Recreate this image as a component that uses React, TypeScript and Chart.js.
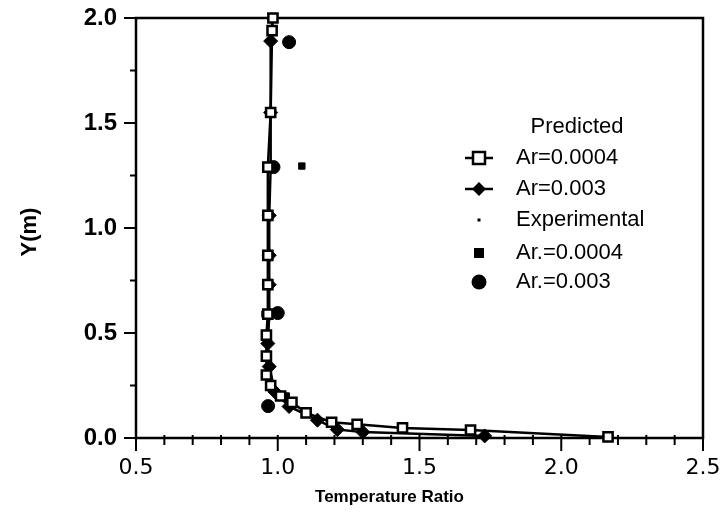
import React, { useEffect, useRef } from "react";
import { Chart, registerables } from "chart.js";

Chart.register(...registerables);

// Predicted, Ar = 0.0004 (open squares)
const predSquareX = [0.983, 0.98, 0.975, 0.965, 0.965, 0.965, 0.965, 0.965, 0.96, 0.96, 0.96, 0.975, 1.01, 1.05, 1.10, 1.19, 1.28, 1.44, 1.68, 2.165];
const predSquareY = [2.0, 1.94, 1.55, 1.29, 1.06, 0.87, 0.73, 0.59, 0.49, 0.39, 0.30, 0.25, 0.20, 0.17, 0.12, 0.075, 0.065, 0.048, 0.038, 0.005];

// Predicted, Ar = 0.003 (filled diamonds)
const predDiamondX = [0.975, 0.975, 0.975, 0.97, 0.97, 0.97, 0.97, 0.965, 0.97, 0.99, 1.04, 1.14, 1.21, 1.30, 1.73];
const predDiamondY = [1.89, 1.55, 1.29, 1.06, 0.87, 0.73, 0.59, 0.45, 0.34, 0.22, 0.15, 0.085, 0.04, 0.028, 0.01];

// Experimental, Ar. = 0.0004 (small filled squares)
const expSquareX = [1.085, 0.955, 1.03];
const expSquareY = [1.295, 0.59, 0.2];

// Experimental, Ar. = 0.003 (filled circles)
const expCircleX = [1.04, 0.985, 1.0, 0.966];
const expCircleY = [1.885, 1.29, 0.595, 0.152];

const xMin = 0.5;
const xMax = 2.5;
const yMin = 0;
const yMax = 2;
const xMajorStep = 0.5;
const yMajorStep = 0.5;
const xMinorStep = 0.1;
const yMinorStep = 0.25;

const legendTitle = "Predicted";
const legendLabels = ["Ar=0.0004", "Ar=0.003", "Experimental", "Ar.=0.0004", "Ar.=0.003"];
const xTitle = "Temperature Ratio";
const yTitle = "Y(m)";

const FONT = "'Liberation Sans', Arial, Helvetica, sans-serif";

function pts(xs: number[], ys: number[]) {
  return xs.map((x, i) => ({ x, y: ys[i] }));
}

const decorPlugin = {
  id: "decor",
  beforeDatasetsDraw(chart: any) {
    const { ctx, chartArea: a, scales } = chart;
    const xs = scales.x;
    const ys = scales.y;
    ctx.save();
    ctx.strokeStyle = "#000";
    ctx.lineWidth = 2.5;
    ctx.strokeRect(a.left, a.top, a.right - a.left, a.bottom - a.top);
    ctx.lineWidth = 2;
    const nx = Math.round((xMax - xMin) / xMinorStep);
    for (let i = 0; i <= nx; i++) {
      const v = xMin + i * xMinorStep;
      const px = xs.getPixelForValue(v);
      const major = Math.abs(v / xMajorStep - Math.round(v / xMajorStep)) < 1e-6;
      ctx.beginPath();
      ctx.moveTo(px, a.bottom - 3);
      ctx.lineTo(px, a.bottom + (major ? 13 : 7));
      ctx.stroke();
    }
    const ny = Math.round((yMax - yMin) / yMinorStep);
    for (let i = 0; i <= ny; i++) {
      const v = yMin + i * yMinorStep;
      const py = ys.getPixelForValue(v);
      const major = Math.abs(v / yMajorStep - Math.round(v / yMajorStep)) < 1e-6;
      ctx.beginPath();
      ctx.moveTo(a.left - (major ? 12 : 6), py);
      ctx.lineTo(a.left, py);
      ctx.stroke();
    }
    // axis titles
    ctx.fillStyle = "#000";
    ctx.font = `bold 17px ${FONT}`;
    ctx.textAlign = "center";
    ctx.textBaseline = "middle";
    ctx.fillText(xTitle, (a.left + a.right) / 2 - 30, a.bottom + 59);
    ctx.save();
    ctx.translate(30, (a.top + a.bottom) / 2 + 4);
    ctx.rotate(-Math.PI / 2);
    ctx.font = `bold 22px ${FONT}`;
    ctx.fillText(yTitle, 0, 0);
    ctx.restore();
    ctx.restore();
  },
  afterDraw(chart: any) {
    const { ctx, chartArea: a } = chart;
    const sx = a.left + 343;
    const tx = a.left + 380;
    const y0 = a.top + 109;
    const step = 31;
    ctx.save();
    ctx.fillStyle = "#000";
    ctx.strokeStyle = "#000";
    ctx.font = `22px ${FONT}`;
    ctx.textBaseline = "middle";
    ctx.textAlign = "center";
    ctx.fillText(legendTitle, a.left + 441, y0);
    ctx.textAlign = "left";
    legendLabels.forEach((lab, i) => {
      const yy = y0 + (i + 1) * step - (i === 3 ? -2 : 0);
      ctx.fillText(lab, tx, yy);
      ctx.lineWidth = 2.5;
      if (i === 0) {
        ctx.beginPath();
        ctx.moveTo(sx - 14, yy);
        ctx.lineTo(sx + 14, yy);
        ctx.stroke();
        ctx.fillStyle = "#fff";
        ctx.fillRect(sx - 6, yy - 6, 12, 12);
        ctx.strokeRect(sx - 6, yy - 6, 12, 12);
        ctx.fillStyle = "#000";
      } else if (i === 1) {
        ctx.beginPath();
        ctx.moveTo(sx - 14, yy);
        ctx.lineTo(sx + 14, yy);
        ctx.stroke();
        ctx.beginPath();
        ctx.moveTo(sx, yy - 7);
        ctx.lineTo(sx + 7, yy);
        ctx.lineTo(sx, yy + 7);
        ctx.lineTo(sx - 7, yy);
        ctx.closePath();
        ctx.fill();
      } else if (i === 2) {
        ctx.fillRect(sx - 1.5, yy - 1.5, 3, 3);
      } else if (i === 3) {
        ctx.fillRect(sx - 5, yy - 5, 10, 10);
      } else {
        ctx.beginPath();
        ctx.arc(sx, yy, 7.5, 0, Math.PI * 2);
        ctx.fill();
      }
    });
    ctx.restore();
  },
};

export default function App() {
  const ref = useRef<HTMLCanvasElement | null>(null);

  useEffect(() => {
    if (!ref.current) return;
    const chart = new Chart(ref.current, {
      type: "scatter",
      data: {
        datasets: [
          {
            label: legendLabels[0],
            data: pts(predSquareX, predSquareY),
            showLine: true,
            borderColor: "#000",
            borderWidth: 2.5,
            pointStyle: "rect",
            pointRadius: 6.5,
            pointBorderWidth: 2.5,
            pointBackgroundColor: "#fff",
            pointBorderColor: "#000",
            tension: 0,
            clip: false,
          },
          {
            label: legendLabels[1],
            data: pts(predDiamondX, predDiamondY),
            showLine: true,
            borderColor: "#000",
            borderWidth: 2.5,
            pointStyle: "rectRot",
            pointRadius: 7,
            pointBorderWidth: 1,
            pointBackgroundColor: "#000",
            pointBorderColor: "#000",
            tension: 0,
            clip: false,
          },
          {
            label: legendLabels[3],
            data: pts(expSquareX, expSquareY),
            showLine: false,
            pointStyle: "rect",
            pointRadius: 4.5,
            pointBorderWidth: 1,
            pointBackgroundColor: "#000",
            pointBorderColor: "#000",
            clip: false,
          },
          {
            label: legendLabels[4],
            data: pts(expCircleX, expCircleY),
            showLine: false,
            pointStyle: "circle",
            pointRadius: 6.5,
            pointBorderWidth: 1,
            pointBackgroundColor: "#000",
            pointBorderColor: "#000",
            clip: false,
          },
        ],
      },
      options: {
        responsive: false,
        animation: false,
        events: [],
        layout: { padding: { top: 18, right: 24, left: 0, bottom: 0 } },
        plugins: { legend: { display: false }, tooltip: { enabled: false } },
        scales: {
          x: {
            type: "linear",
            min: xMin,
            max: xMax,
            grid: { display: false, drawTicks: false },
            border: { display: false },
            ticks: {
              stepSize: xMajorStep,
              padding: 17,
              color: "#000",
              font: { family: "'DejaVu Sans', sans-serif", size: 22 },
              callback: (v: any) => Number(v).toFixed(1),
            },
            afterFit: (s: any) => {
              s.height = 81;
              s.paddingLeft = 0;
              s.paddingRight = 0;
            },
          },
          y: {
            type: "linear",
            min: yMin,
            max: yMax,
            grid: { display: false, drawTicks: false },
            border: { display: false },
            ticks: {
              stepSize: yMajorStep,
              padding: 19,
              color: "#000",
              font: { family: FONT, size: 24, weight: "bold" },
              callback: (v: any) => Number(v).toFixed(1),
            },
            afterFit: (s: any) => {
              s.width = 136;
              s.paddingTop = 0;
              s.paddingBottom = 0;
            },
          },
        },
      },
      plugins: [decorPlugin],
    } as any);
    return () => chart.destroy();
  }, []);

  return (
    <div style={{ position: "absolute", left: 0, top: 0, width: 727, height: 519, background: "#fff" }}>
      <canvas ref={ref} width={727} height={519} style={{ display: "block" }} />
    </div>
  );
}
